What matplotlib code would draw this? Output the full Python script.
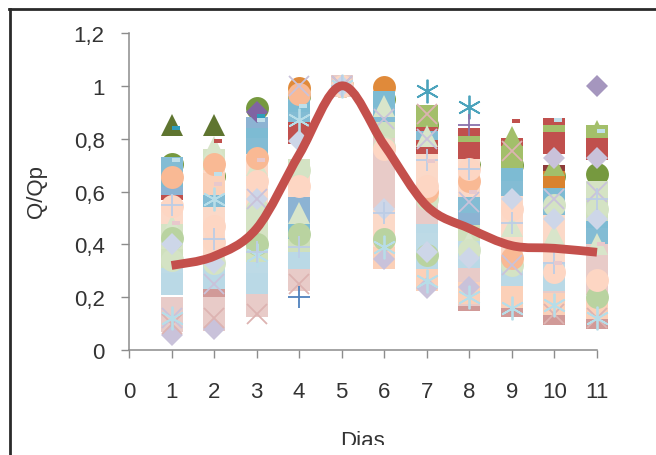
import numpy as np
import matplotlib
matplotlib.use("Agg")
import matplotlib.pyplot as plt
from matplotlib.lines import Line2D
from matplotlib.path import Path
from matplotlib.patches import PathPatch, Rectangle
from matplotlib.transforms import IdentityTransform

plt.rcParams['font.family'] = ['Liberation Sans', 'DejaVu Sans']
N = np.nan
days = [1, 2, 3, 4, 5, 6, 7, 8, 9, 10, 11]
xticks = list(range(12))
yticks = [0, .2, .4, .6, .8, 1, 1.2]
yticklabels = ['0', '0,2', '0,4', '0,6', '0,8', '1', '1,2']

tri_dark = [.85, .85, N, N, N, N, N, N, N, N, N]
circ_green = [.705, .66, .915, .96, 1, .95, .85, .70, .70, .66, .665]
dia_purple = [N, N, .90, N, N, N, N, N, N, N, N]
circ_orange = [N, N, N, .99, 1, .995, N, N, N, N, N]
star_teal = [N, N, N, N, N, N, .98, .92, N, N, N]
plus_purple = [N, N, N, N, N, N, N, .85, N, N, N]
sq_red_top = [N, N, N, N, N, N, .87, .80, .76, .835, .80]
sq_green = [N, .64, N, N, N, .685, .885, .77, .73, .81, .81]
tri_green = [N, N, N, N, N, N, N, N, .805, .70, .83]
sq_red_under = [.61, .595, .62, N, N, N, N, N, .76, N, N]
sq_red = [N, N, N, .82, 1, .57, .755, .745, N, .785, .76]
sq_darkred = [N, N, .605, .41, N, N, .70, .60, .73, .66, .60]
sq_orange = [N, N, .575, N, N, .485, .725, .79, N, .635, N]

sq_blue_a = [.66, .60, .80, .91, 1, .94, .76, .74, .65, .57, .47]
sq_blue_b = [.69, .55, .76, .86, 1, .88, .82, .56, .60, .53, .42]
sq_blue_c = [.63, N, .84, .50, 1, .82, N, .50, N, N, N]
sq_blue_d = [N, N, N, .44, N, N, N, N, N, N, N]
sq_blue_e = [N, N, N, .56, N, N, N, N, N, N, N]
sq_lb_a = [.25, .26, .25, .33, N, N, .34, .31, .25, .235, N]
sq_lb_b = [.27, .21, .29, N, N, N, .40, .37, .30, .29, N]
sq_lb_c = [N, .29, N, N, N, N, .46, N, N, N, N]
sq_pink_a = [.11, .115, .165, .265, 1, .58, .52, .27, .20, .18, .25]
sq_pink_b = [.16, .16, .17, N, N, .64, .58, .21, N, N, .31]
sq_pink_c = [N, N, N, N, N, .70, N, N, N, N, .36]
sq_pink_d = [N, N, N, N, N, .76, N, N, N, N, N]
sq_peach_a = [.52, .38, .58, .62, N, .50, .64, .62, .36, .35, N]
sq_peach_b = [N, .44, .64, N, N, .44, .70, .68, .42, .41, N]
sq_peach_c = [N, .50, .70, N, N, .39, N, N, .48, .47, N]
sq_peach_d = [N, .64, N, N, N, N, N, N, .54, N, N]
sq_pale_a = [.34, .33, .34, .38, N, .82, .29, .43, N, N, .53]
sq_pale_b = [.40, .68, .40, .68, N, N, N, N, N, N, .60]
sq_pale_c = [.46, .72, .46, N, N, N, N, N, N, N, N]
sq_pale_d = [N, N, .52, N, N, N, N, N, N, N, N]

sq_rose = [N, .19, N, N, N, N, N, .19, .165, .135, .12]
band_peach = [N, .63, N, N, N, .35, .265, .215, .20, .175, .16]
tri_palegreen = [.47, .77, .70, .52, N, .925, .81, .41, .47, .435, .40]
circ_palegreen_a = [.34, .33, .535, .68, 1, .77, .57, .38, .32, .55, .535]
circ_palegreen_b = [.425, N, .40, .44, N, .42, .36, N, N, N, .20]
circ_peach_a = [.545, .47, .64, .62, 1, .76, .62, .685, .535, .295, .265]
circ_peach_b = [.655, .705, .725, .97, N, N, .60, .64, .35, N, N]
circ_peach_c = [N, .41, N, N, N, N, N, N, N, N, N]
dia_lavender = [.40, .33, .57, .79, 1, .535, .37, .35, .57, .495, .495]
dia_lilac = [.055, .08, N, N, N, .345, .235, .24, N, .725, .725]
dia_strong = [N, N, N, N, N, N, N, N, N, N, 1.0]
x_pink = [.10, .12, .135, .25, 1, N, .895, N, .755, .135, .12]
x_lilac = [.12, .25, .57, 1.0, 1, .875, .80, .56, .32, .57, .60]
star_pale = [.12, .57, .36, .87, 1, .39, .26, .20, .16, .17, .12]
plus_pale = [.55, .42, .37, .39, 1, .52, .72, .685, .48, .33, .57]
plus_blue = [N, N, N, .20, N, N, N, N, N, N, N]
dash_teal = [.84, N, .885, N, N, N, N, N, N, N, N]
dash_pale = [.72, .665, .87, .925, N, N, N, N, N, .87, .83]
dash_pink = [.48, .63, .72, N, N, N, .715, .60, N, .33, .40]
dash_red = [N, .79, N, N, N, N, N, N, .865, N, N]

mean_curve = [.32, .355, .46, .74, 1, .775, .545, .46, .395, .385, .37]

dash_marker = Path([(0, -.22), (1, -.22), (1, .22), (0, .22), (0, -.22)])
star6 = (6, 2, 0)

layers = [
    (tri_dark, '^', '#5F7530'), (circ_green, 'o', '#76993F'), (circ_orange, 'o', '#E08A3A'),
    (sq_darkred, 's', '#8E3B3A'), (sq_orange, 's', '#D9822E'), (sq_red_under, 's', '#C0504D'),
    (sq_blue_c, 's', '#8CB3D3'), (sq_blue_a, 's', '#7DBBD3'), (sq_blue_b, 's', '#83BCD4'),
    (sq_blue_d, 's', '#7DBBD3'), (sq_blue_e, 's', '#8CB3D3'),
    (dia_purple, 'D', '#8064A2'), (sq_red_top, 's', '#C0504D'), (sq_green, 's', '#A3BF6A'),
    (tri_green, '^', '#A3BF6A'), (sq_red, 's', '#C0504D'),
    (sq_pale_d, 's', '#D5E3C4'), (sq_pale_c, 's', '#D5E3C4'), (sq_pale_b, 's', '#D5E3C4'), (sq_pale_a, 's', '#CFE0BC'),
    (sq_peach_d, 's', '#FBD9C8'), (sq_peach_c, 's', '#FBD9C8'), (sq_peach_b, 's', '#FBD9C8'), (sq_peach_a, 's', '#FBD9C8'),
    (sq_lb_c, 's', '#BAD9E6'), (sq_lb_b, 's', '#BDDAE6'), (sq_lb_a, 's', '#BAD9E6'),
    (sq_rose, 's', '#D19A98'), (sq_pink_d, 's', '#E8CBC8'), (sq_pink_c, 's', '#E8CBC8'),
    (sq_pink_b, 's', '#E8CBC8'), (sq_pink_a, 's', '#E8CBC8'),
    (band_peach, 's', '#FBD0B8'), (tri_palegreen, '^', '#D8E5CA'),
    (circ_palegreen_a, 'o', '#D4E3C4'), (circ_palegreen_b, 'o', '#B9D3A0'),
    (circ_peach_c, 'o', '#FBD6C3'), (circ_peach_b, 'o', '#F9B994'), (circ_peach_a, 'o', '#FDD6C3'),
    (dia_lavender, 'D', '#CDD6E8'), (dia_lilac, 'D', '#C9C2DA'), (dia_strong, 'D', '#A596BE'),
    (x_pink, 'x', '#DDB3B1'), (x_lilac, 'x', '#C9C2DA'), (star_pale, star6, '#B7DDE8'),
    (star_teal, star6, '#4BA3BC'), (plus_pale, '+', '#BCCDE6'), (plus_purple, '+', '#8A72AC'),
    (plus_blue, '+', '#4F81BD'), (dash_teal, dash_marker, '#2F9DBB'), (dash_pale, dash_marker, '#BFDFEA'),
    (dash_pink, dash_marker, '#E8C8CC'), (dash_red, dash_marker, '#C0504D'),
]
sizes = {'s': 16.5, 'o': 16.5, '^': 16.5, 'D': 11.5, 'x': 15, '+': 16}

fig = plt.figure(figsize=(6.56, 4.56), dpi=100, facecolor='white')
W, H = 656, 456
ax = fig.add_axes([129 / W, 1 - 351 / H, 468 / W, 317 / H])
ax.set_xlim(0, 11)
ax.set_ylim(0, 1.2)

for values, marker, color in layers:
    if marker is dash_marker:
        ms = 11.5
    elif marker == star6:
        ms = 17
    else:
        ms = sizes[marker]
    ax.plot(days, values, ls='none', marker=marker, ms=ms, color=color, mfc=color,
            mec=color if marker in ('x', '+', star6) else 'none',
            mew=1.3, clip_on=False, zorder=3)

# smooth mean curve: Bezier segments through the mean values
px = np.array(days, float)
py = np.array(mean_curve, float)
verts = [(px[0], py[0])]
codes = [Path.MOVETO]
for i in range(len(px) - 1):
    p0 = np.array([px[max(i - 1, 0)], py[max(i - 1, 0)]])
    p1 = np.array([px[i], py[i]])
    p2 = np.array([px[i + 1], py[i + 1]])
    p3 = np.array([px[min(i + 2, len(px) - 1)], py[min(i + 2, len(px) - 1)]])
    verts += [tuple(p1 + (p2 - p0) / 6), tuple(p2 - (p3 - p1) / 6), tuple(p2)]
    codes += [Path.CURVE4] * 3
ax.add_patch(PathPatch(Path(verts, codes), fc='none', ec='#C4504C', lw=6.3, capstyle='butt',
                       joinstyle='round', zorder=5, clip_on=False))

for s in ('top', 'right'):
    ax.spines[s].set_visible(False)
for s in ('left', 'bottom'):
    ax.spines[s].set_color('#8C8C8C')
    ax.spines[s].set_linewidth(1.1)
ax.set_xticks(xticks)
ax.set_yticks(yticks)
ax.set_yticklabels(yticklabels)
ax.tick_params(axis='both', direction='out', length=5.5, width=1.0, color='#8C8C8C',
               labelsize=16, labelcolor='#333333')
ax.tick_params(axis='x', pad=17)
ax.tick_params(axis='y', pad=12)

fig.text(36 / W, 1 - 192 / H, 'Q/Qp', rotation=90, ha='center', va='center',
         fontsize=16, color='#333333')
dias = fig.text(362 / W, 1 - 447 / H, 'Dias', ha='center', va='baseline',
                fontsize=16, color='#333333')
dias.set_clip_on(True)
dias.set_clip_path(Rectangle((0, 10), W, H, transform=IdentityTransform()))

fig.add_artist(Line2D([9.5 / W, 9.5 / W], [0, 1 - 10 / H], color='#2A2A2A', lw=2))
fig.add_artist(Line2D([9 / W, 1], [1 - 10 / H, 1 - 10 / H], color='#2A2A2A', lw=2))

fig.savefig('out.png', dpi=100)
